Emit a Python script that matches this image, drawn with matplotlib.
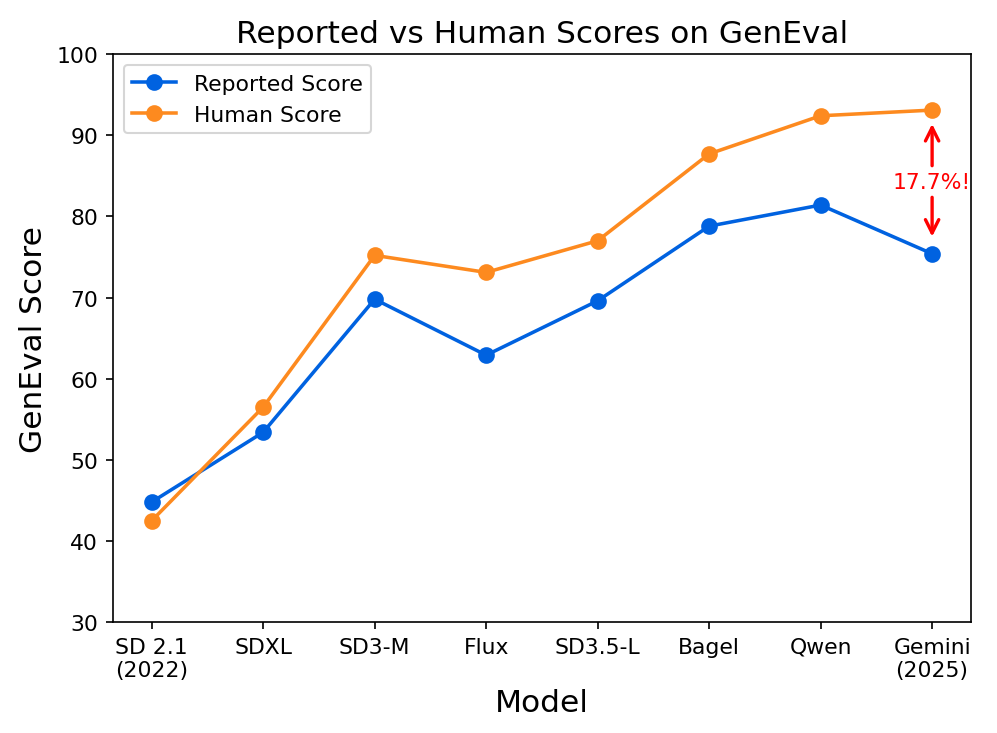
import matplotlib
matplotlib.use("Agg")
import matplotlib.pyplot as plt
import numpy as np

models = ["SD 2.1\n(2022)", "SDXL", "SD3-M", "Flux", "SD3.5-L", "Bagel", "Qwen", "Gemini\n(2025)"]
reported = [44.8, 53.4, 69.8, 62.9, 69.6, 78.8, 81.4, 75.4]
human = [42.5, 56.5, 75.2, 73.1, 77.0, 87.7, 92.4, 93.1]

blue = "#0062e0"
orange = "#fd8a1f"

fig = plt.figure(figsize=(6.647, 4.893), dpi=150)
ax = fig.add_subplot(111)
fig.subplots_adjust(left=0.113, right=0.974, top=0.925, bottom=0.151)

x = np.arange(len(models))
ax.plot(x, reported, '-o', color=blue, lw=1.7, ms=7, label="Reported Score")
ax.plot(x, human, '-o', color=orange, lw=1.7, ms=7, label="Human Score")

# gap annotation on the last model
xg = x[-1]
mid = (reported[-1] + human[-1]) / 2
ax.text(xg, mid, "17.7%!", color="red", ha="center", va="center", fontsize=10.5)
ax.annotate("", xy=(xg, human[-1] - 1.7), xytext=(xg, mid + 2.0),
            arrowprops=dict(arrowstyle="->", color="red", lw=1.6, mutation_scale=16,
                            shrinkA=0, shrinkB=0))
ax.annotate("", xy=(xg, reported[-1] + 2.1), xytext=(xg, mid - 1.9),
            arrowprops=dict(arrowstyle="->", color="red", lw=1.6, mutation_scale=16,
                            shrinkA=0, shrinkB=0))

ax.set_ylim(30, 100)
ax.set_xticks(x)
ax.set_xticklabels(models, fontsize=10.5)
ax.tick_params(axis='y', labelsize=10.5)
ax.set_title("Reported vs Human Scores on GenEval", fontsize=15)
ax.set_xlabel("Model", fontsize=15)
ax.set_ylabel("GenEval Score", fontsize=15)
ax.legend(loc="upper left", fontsize=10.5)

fig.savefig("out.png", dpi=150)
